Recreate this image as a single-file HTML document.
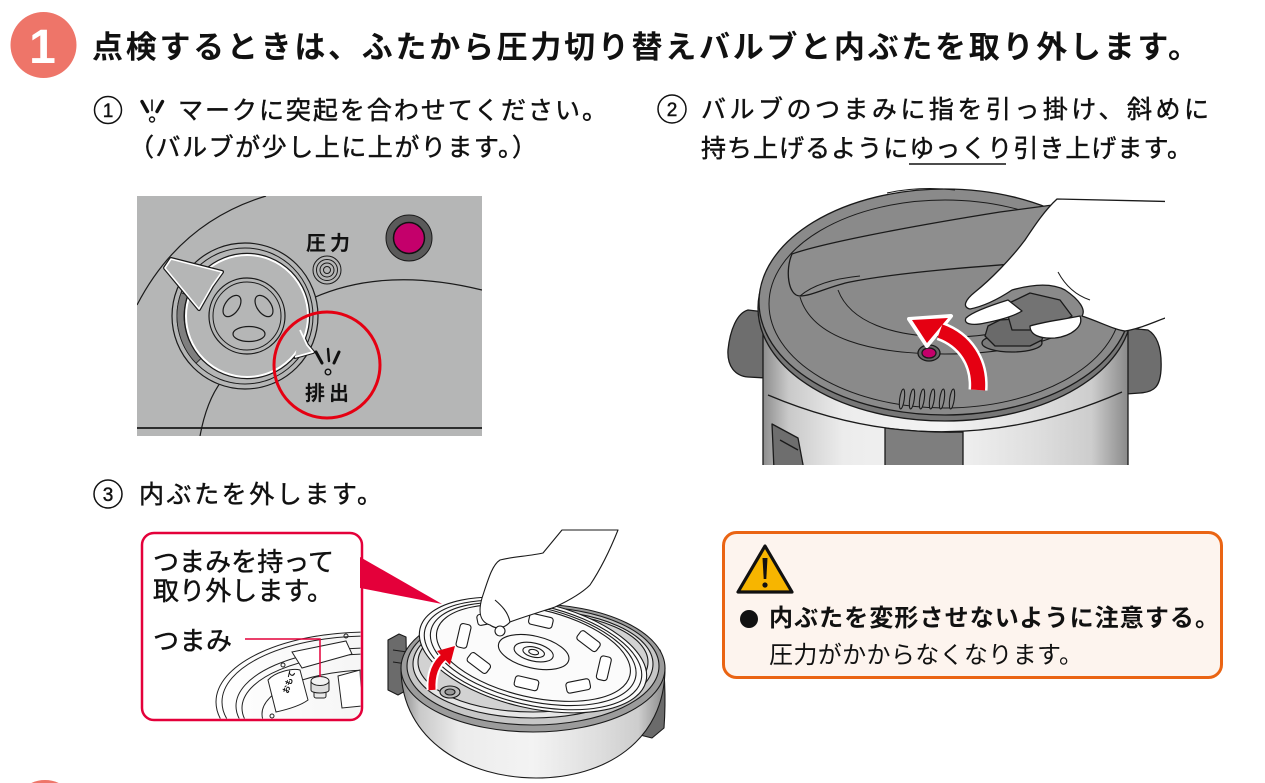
<!DOCTYPE html>
<html><head><meta charset="utf-8">
<style>
html,body{margin:0;padding:0;background:#fff;width:1265px;height:783px;overflow:hidden}
svg{display:block;overflow:hidden}
text{font-family:"Liberation Sans","Noto Sans CJK JP",sans-serif;fill:#111}
.m{stroke:#111;stroke-width:0.45px}
</style></head><body>
<svg width="1265" height="783" viewBox="0 0 1265 783" xmlns="http://www.w3.org/2000/svg">
<defs>
<linearGradient id="sv" x1="0" x2="1" y1="0" y2="0">
<stop offset="0" stop-color="#8d8d8d"/><stop offset=".07" stop-color="#c9c9c9"/><stop offset=".22" stop-color="#ececec"/><stop offset=".5" stop-color="#f3f3f3"/><stop offset=".75" stop-color="#dedede"/><stop offset=".9" stop-color="#cdcdcd"/><stop offset="1" stop-color="#8a8a8a"/>
</linearGradient>
<linearGradient id="lg" x1="0" x2="1" y1="0" y2="0">
<stop offset="0" stop-color="#ffffff"/><stop offset=".55" stop-color="#f4f4f4"/><stop offset="1" stop-color="#cfcfcf"/>
</linearGradient>
<clipPath id="c2"><rect x="720" y="180" width="445" height="285"/></clipPath>
<clipPath id="cv"><rect x="137" y="196" width="345" height="240"/></clipPath>
<clipPath id="cb"><rect x="143.5" y="534.5" width="217" height="184" rx="11"/></clipPath>
</defs>

<!-- Header -->
<circle cx="43.5" cy="45" r="33" fill="#EE7569"/>
<text x="42.5" y="63" font-size="48" font-weight="bold" text-anchor="middle" style="fill:#fff">1</text>
<text x="92" y="58" font-size="31" font-weight="bold" textLength="1107" lengthAdjust="spacing">点検するときは、ふたから圧力切り替えバルブと内ぶたを取り外します。</text>

<!-- Step 1 text -->
<circle cx="108" cy="110" r="13.5" fill="none" stroke="#111" stroke-width="1.5"/>
<text x="108" y="117" font-size="19" text-anchor="middle" class="m">1</text>
<g stroke="#111" stroke-linecap="round">
<line x1="142" y1="101.5" x2="147.5" y2="111.5" stroke-width="3.4"/>
<line x1="152" y1="100" x2="152" y2="110.5" stroke-width="1.6"/>
<line x1="162.5" y1="101.5" x2="157" y2="111.5" stroke-width="3.4"/>
<circle cx="152" cy="119.5" r="2.5" fill="none" stroke-width="1.4"/>
</g>
<text x="178" y="119" font-size="25" class="m" textLength="429" lengthAdjust="spacing">マークに突起を合わせてください。</text>
<text x="129" y="156" font-size="25" class="m" textLength="408" lengthAdjust="spacing">（バルブが少し上に上がります。）</text>

<!-- Step 2 text -->
<circle cx="672" cy="109" r="14" fill="none" stroke="#111" stroke-width="1.5"/>
<text x="672" y="116" font-size="19" text-anchor="middle" class="m">2</text>
<text x="701" y="118" font-size="25" class="m" textLength="508" lengthAdjust="spacing">バルブのつまみに指を引っ掛け、斜めに</text>
<text x="701" y="157" font-size="25" class="m" textLength="491" lengthAdjust="spacing">持ち上げるようにゆっくり引き上げます。</text>
<line x1="909" y1="164" x2="1006" y2="164" stroke="#111" stroke-width="1.5"/>

<!-- Valve illustration -->
<rect x="137" y="196" width="345" height="240" fill="#B5B6B6"/>
<g clip-path="url(#cv)" stroke="#1a1a1a" fill="none" stroke-width="1.2">
<path d="M137,305 Q180,222 266,196"/>
<path d="M200,436 Q207,398 224,378"/>
<path d="M313,298 Q385,266 482,290"/>
<line x1="137" y1="428" x2="482" y2="428" stroke-width="1.8"/>
</g>
<circle cx="245" cy="316" r="73" fill="#B5B6B6" stroke="#1a1a1a" stroke-width="1.2"/>
<circle cx="245" cy="316" r="68" fill="none" stroke="#1a1a1a" stroke-width="1"/>
<path d="M196.1,363.3 A68,68 0 0 1 181.1,292.7 L187.7,295.1 A61,61 0 0 0 201.1,358.4 Z" fill="#7f7f7f" stroke="#1a1a1a" stroke-width="0.8"/>
<circle cx="247" cy="316" r="61" fill="#B5B6B6" stroke="#1a1a1a" stroke-width="4.5"/>
<path d="M300,330 L307,345 L313,352 L295,357 Z" fill="#B5B6B6" stroke="#1a1a1a" stroke-width="4" stroke-linejoin="round"/>
<circle cx="247" cy="316" r="61" fill="#B5B6B6" stroke="#fff" stroke-width="2"/>
<path d="M300,330 L307,345 L313,352 L295,357" fill="#B5B6B6" stroke="#fff" stroke-width="1.8" stroke-linejoin="round"/>
<circle cx="247" cy="316" r="38" fill="#B5B6B6" stroke="#1a1a1a" stroke-width="1.2"/>
<circle cx="247" cy="316" r="34" fill="none" stroke="#1a1a1a" stroke-width="1"/>
<g fill="none" stroke="#1a1a1a" stroke-width="1.2">
<ellipse cx="232" cy="306" rx="7" ry="12" transform="rotate(35 232 306)"/>
<ellipse cx="264" cy="306" rx="7" ry="12" transform="rotate(-35 264 306)"/>
<ellipse cx="249" cy="334" rx="16" ry="7.5"/>
</g>
<polygon points="165,268 171,259 222,272 212,286 199,309" fill="#B5B6B6" stroke="#1a1a1a" stroke-width="4" stroke-linejoin="round"/>
<polygon points="165,268 171,259 222,272 212,286 199,309" fill="#B5B6B6" stroke="#fff" stroke-width="1.6" stroke-linejoin="round"/>
<text x="306" y="250" font-size="20" font-weight="bold" textLength="44" lengthAdjust="spacing">圧力</text>
<g fill="none" stroke="#1a1a1a" stroke-width="1">
<circle cx="327" cy="270" r="14"/><circle cx="327" cy="270" r="10.5"/><circle cx="327" cy="270" r="7"/><circle cx="327" cy="270" r="3.5"/>
</g>
<circle cx="409" cy="238" r="23" fill="#5a5a5a" stroke="#1a1a1a" stroke-width="1"/>
<circle cx="409" cy="238" r="15.5" fill="#C4006B" stroke="#111" stroke-width="1.5"/>
<circle cx="327" cy="365" r="53" fill="none" stroke="#E50012" stroke-width="3"/>
<g stroke="#111" stroke-linecap="round">
<line x1="316" y1="352" x2="322" y2="363" stroke-width="3"/>
<line x1="328" y1="349" x2="329" y2="361" stroke-width="2.4"/>
<line x1="339" y1="352" x2="334" y2="363" stroke-width="3"/>
<circle cx="328" cy="372" r="2.8" fill="none" stroke-width="1.4"/>
</g>
<text x="305" y="400" font-size="20" font-weight="bold" textLength="44" lengthAdjust="spacing">排出</text>

<!-- Pressure cooker (step 2) -->
<g clip-path="url(#c2)" stroke="#1a1a1a" stroke-width="1.3" stroke-linejoin="round">
<path d="M765,312 L748,310 C737,313 730,330 728,350 C727,366 735,376 748,377 L766,378 Z" fill="#6e6e6e"/>
<path d="M1125,328 L1148,330 C1158,336 1162,350 1161,370 C1160,386 1155,392 1140,393 L1126,394 Z" fill="#6e6e6e"/>
<path d="M763,318 L763,470 L1128,470 L1128,322 Z" fill="url(#sv)"/>
<path d="M768,395 Q945,470 1122,392" fill="none"/>
<path d="M885,428 Q925,433 963,432 L963,470 L885,470 Z" fill="#7e7e7e"/>
<path d="M772,424 L798,438 L804,470 L774,470 Z" fill="#6e6e6e"/>
<path d="M780,440 L798,450" fill="none"/>
<ellipse cx="945" cy="308" rx="187" ry="113" fill="#777"/>
<ellipse cx="945" cy="302" rx="186" ry="113" fill="#8a8a8a"/>
<ellipse cx="945" cy="304" rx="176" ry="104" fill="none" stroke-width="1"/>
<path d="M800,297 C812,338 870,354 945,354 C1000,354 1040,345 1070,330" fill="none" stroke-width="1"/>
<path d="M838,290 C850,322 892,337 950,337 C980,337 1000,333 1015,328" fill="none" stroke-width="1"/>
<path d="M887,193 Q920,186 955,190" fill="none" stroke-width="1"/>
<path d="M792,254 C820,244 900,228 1000,212 L1060,204 L1040,262 C985,266 900,272 850,282 C830,286 812,296 800,296 C788,296 785,270 792,254 Z" fill="#8e8e8e"/>
<path d="M800,296 C815,283 840,278 860,276" fill="none" stroke-width="1"/>
<g fill="#8a8a8a" stroke-width="1.1">
<ellipse cx="902" cy="399" rx="2.3" ry="10" transform="rotate(8 902 399)"/>
<ellipse cx="912" cy="399" rx="2.3" ry="10" transform="rotate(8 912 399)"/>
<ellipse cx="922" cy="399" rx="2.3" ry="10" transform="rotate(8 922 399)"/>
<ellipse cx="932" cy="399" rx="2.3" ry="10" transform="rotate(8 932 399)"/>
<ellipse cx="942" cy="399" rx="2.3" ry="10" transform="rotate(8 942 399)"/>
<ellipse cx="952" cy="399" rx="2.3" ry="10" transform="rotate(8 952 399)"/>
</g>
<ellipse cx="929" cy="353" rx="11" ry="8" fill="#666"/>
<ellipse cx="929" cy="353" rx="7" ry="5" fill="#C4006B"/>
<ellipse cx="1012" cy="343" rx="30" ry="9" fill="#7a7a7a"/>
<path d="M985,336 L988,326 L1000,320 L1030,318 L1045,324 L1042,340 L1030,346 L995,346 Z" fill="#6a6a6a"/>
<path d="M1005,305 L1030,293 L1060,300 L1072,316 L1048,330 L1012,330 Z" fill="#737373"/>
<path d="M978,390 C980,362 965,340 940,331" fill="none" stroke="#fff" stroke-width="19" stroke-linecap="butt"/>
<polygon points="909,319 927,346 951,316" fill="#fff" stroke="#fff" stroke-width="4"/>
<path d="M978,390 C980,362 965,340 940,331" fill="none" stroke="#E50012" stroke-width="14" stroke-linecap="butt"/>
<polygon points="912,320 927,343 948,318" fill="#E50012" stroke="none"/>
<path d="M1190,202 L1057,199 C1045,210 1035,225 1025,240 C1010,260 990,280 975,292 C965,300 962,307 970,309 C985,306 1000,298 1012,290 C1030,285 1050,282 1065,290 C1080,300 1086,310 1082,316 C1100,322 1115,330 1125,331 C1145,328 1160,318 1190,310 Z" fill="#fff"/>
<path d="M1008,300 C992,305 972,312 966,318 C963,324 972,326 985,323 C1000,320 1014,316 1022,311 Z" fill="#fff"/>
<path d="M1030,326 C1042,322 1060,320 1080,316 C1084,326 1072,336 1055,338 C1040,339 1030,335 1030,326 Z" fill="#fff"/>
<path d="M1058,272 C1065,285 1075,295 1090,300" fill="none" stroke-width="1"/>
</g>

<!-- Step 3 text -->
<circle cx="108" cy="494" r="14" fill="none" stroke="#111" stroke-width="1.5"/>
<text x="108" y="501" font-size="19" text-anchor="middle" class="m">3</text>
<text x="139" y="503" font-size="25" class="m" textLength="243" lengthAdjust="spacing">内ぶたを外します。</text>

<!-- Callout -->
<rect x="142" y="533" width="220" height="187" rx="12" fill="#fff" stroke="#E4003A" stroke-width="2.5"/>
<g clip-path="url(#cb)" stroke="#222" fill="none" stroke-width="1">
<ellipse cx="368" cy="702" rx="152" ry="70" fill="url(#lg)"/>
<ellipse cx="368" cy="702" rx="146" ry="66"/>
<ellipse cx="370" cy="706" rx="134" ry="58"/>
<ellipse cx="370" cy="708" rx="128" ry="54"/>
<ellipse cx="372" cy="714" rx="110" ry="44"/>
<path d="M268,680 C275,672 292,668 300,670 L308,700 C300,706 285,710 276,712 Z" fill="#fff"/>
<path d="M292,652 L346,641 L352,654 L302,668 Z" fill="#fff"/>
<path d="M338,676 L360,670 L362,706 L342,708 Z" fill="#fff"/>
<circle cx="283" cy="665" r="2"/><circle cx="346" cy="636" r="2"/><circle cx="272" cy="716" r="2"/>
<rect x="314" y="684" width="12" height="14" rx="2" fill="#e8e8e8"/>
<path d="M311,681 L311,690 C311,694 329,694 329,690 L329,681" fill="#ddd"/>
<ellipse cx="320" cy="681" rx="9" ry="4.5" fill="#f2f2f2"/>
</g>
<text x="288" y="694" font-size="8" font-weight="bold" transform="rotate(-72 288 694)">おもて</text>
<polyline points="245,639 320,639 320,677" fill="none" stroke="#E4003A" stroke-width="1.5"/>
<polygon points="360,557 360,588 442,604" fill="#E4003A"/>
<text x="153" y="571" font-size="26" class="m" textLength="181" lengthAdjust="spacing">つまみを持って</text>
<text x="153" y="600" font-size="26" class="m" textLength="180" lengthAdjust="spacing">取り外します。</text>
<text x="153" y="650" font-size="26" class="m" textLength="79" lengthAdjust="spacing">つまみ</text>

<!-- Pot with inner lid (step 3) -->
<g stroke="#1a1a1a" stroke-width="1.1" stroke-linejoin="round">
<path d="M388,640 L399,634 L406,637 L407,690 L398,695 L388,690 Z" fill="#6b6b6b"/>
<path d="M393,650 L407,652 M393,662 L407,664" fill="none"/>
<path d="M646,646 L660,650 C665,662 666,700 664,728 L652,738 L640,735 Z" fill="#6b6b6b"/>
<path d="M401,668 C401,742 470,778 536,778 C604,778 665,742 665,668 Z" fill="url(#sv)"/>
<ellipse cx="533" cy="668" rx="132" ry="64" fill="#9c9c9c"/>
<ellipse cx="533" cy="666" rx="126" ry="59" fill="#c6c6c6"/>
<ellipse cx="533" cy="664" rx="120" ry="54" fill="#e6e6e6"/>
<ellipse cx="533" cy="662" rx="115" ry="50" fill="#d2d2d2"/>
<ellipse cx="450" cy="692" rx="10" ry="6" fill="#bbb"/>
<ellipse cx="450" cy="692" rx="5" ry="3" fill="#999"/>
<g transform="rotate(13 533 655)">
<ellipse cx="533" cy="655" rx="116" ry="53" fill="#fbfbfb"/>
<ellipse cx="533" cy="655" rx="111" ry="50" fill="none"/>
<ellipse cx="533" cy="654" rx="105" ry="47" fill="none"/>
<ellipse cx="533" cy="653" rx="99" ry="44" fill="none"/>
<g fill="#fff">
<rect x="-12" y="-5.5" width="24" height="11" rx="3" transform="translate(605 652) rotate(90)"/>
<rect x="-12" y="-5.5" width="24" height="11" rx="3" transform="translate(584 675) rotate(-24)"/>
<rect x="-12" y="-5.5" width="24" height="11" rx="3" transform="translate(533 684)"/>
<rect x="-12" y="-5.5" width="24" height="11" rx="3" transform="translate(482 675) rotate(24)"/>
<rect x="-12" y="-5.5" width="24" height="11" rx="3" transform="translate(461 652) rotate(90)"/>
<rect x="-12" y="-5.5" width="24" height="11" rx="3" transform="translate(482 629) rotate(-24)"/>
<rect x="-12" y="-5.5" width="24" height="11" rx="3" transform="translate(533 620)"/>
<rect x="-12" y="-5.5" width="24" height="11" rx="3" transform="translate(584 629) rotate(24)"/>
</g>
<ellipse cx="533" cy="652" rx="36" ry="16" fill="none"/>
<ellipse cx="533" cy="652" rx="20" ry="9" fill="none"/>
<ellipse cx="533" cy="652" rx="11" ry="5" fill="none"/>
<ellipse cx="533" cy="652" rx="5" ry="2.5" fill="none"/>
</g>
<path d="M562,530 L543,553 C530,556 510,557 500,560 C492,565 488,580 482,598 C478,612 480,622 490,625 C497,630 505,628 510,622 C520,618 540,612 555,607 C570,600 583,592 590,585 C600,570 610,550 618,530 Z" fill="#fff"/>
<path d="M495,600 C502,606 508,612 510,622" fill="none"/>
<circle cx="500" cy="631" r="5" fill="#fff"/>
</g>
<path d="M432,690 C431,672 437,662 445,656" fill="none" stroke="#fff" stroke-width="11"/>
<path d="M432,690 C431,672 437,662 445,656" fill="none" stroke="#E50012" stroke-width="7"/>
<polygon points="455,646 437,651 450,665" fill="#E50012"/>

<!-- Caution box -->
<rect x="723.5" y="532.5" width="498" height="145" rx="13" fill="#FDF4EE" stroke="#EA6413" stroke-width="3"/>
<polygon points="765,546 738,592 792,592" fill="#F7B500" stroke="#111" stroke-width="3.2" stroke-linejoin="round"/>
<path d="M762.5,558 L767.5,558 L766.3,579 L763.7,579 Z" fill="#111"/>
<circle cx="765" cy="585" r="2.6" fill="#111"/>
<circle cx="749" cy="619" r="9" fill="#111"/>
<text x="769" y="626" font-size="24" font-weight="bold" textLength="450" lengthAdjust="spacing">内ぶたを変形させないように注意する。</text>
<text x="769" y="663" font-size="24" textLength="314" lengthAdjust="spacing">圧力がかからなくなります。</text>

<!-- Bottom partial circle -->
<path d="M31.3,783 A33,33 0 0 1 58.7,783 Z" fill="#EE7569"/>
</svg>
</body></html>
